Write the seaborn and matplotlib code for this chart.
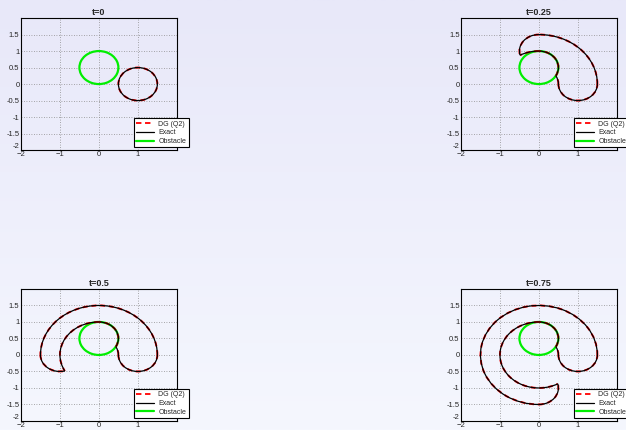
import matplotlib
matplotlib.use("Agg")
import matplotlib.pyplot as plt
from matplotlib.patches import Arc
from matplotlib.lines import Line2D
import seaborn as sns
import numpy as np

# front positions at the four output times
# each boundary piece: (cx, cy, radius, theta_start, theta_end) in degrees
TIMES = ["t=0", "t=0.25", "t=0.5", "t=0.75"]

FRONT_T0 = [(1, 0, 0.5, 0, 360)]
FRONT_T025 = [
    (1, 0, 0.5, 180, 360),     # start disk, lower half
    (0, 0, 1.5, 0, 90),        # outer swept arc
    (0, 1, 0.5, 90, 194.5),    # disk at final position
    (0, 0, 1.0, 90, 119),      # shadow behind obstacle
    (0, 0.5, 0.5, -30, 90),    # along obstacle
    (0, 0, 0.5, 0, 30),        # inner swept arc
]
FRONT_T05 = [
    (1, 0, 0.5, 180, 360),
    (0, 0, 1.5, 0, 180),
    (-1, 0, 0.5, 180, 284.5),
    (0, 0, 1.0, 90, 209),
    (0, 0.5, 0.5, -30, 90),
    (0, 0, 0.5, 0, 30),
]
FRONT_T075 = [
    (1, 0, 0.5, 180, 360),
    (0, 0, 1.5, 0, 270),
    (0, -1, 0.5, 270, 374.5),
    (0, 0, 1.0, 90, 299),
    (0, 0.5, 0.5, -30, 90),
    (0, 0, 0.5, 0, 30),
]
FRONTS = [FRONT_T0, FRONT_T025, FRONT_T05, FRONT_T075]

OBSTACLE = (0, 0.5, 0.5)  # center x, center y, radius

XTICKS = [-2, -1, 0, 1]
YTICKS = [-2, -1.5, -1, -0.5, 0, 0.5, 1, 1.5]
YTICKLABELS = ["-2", "-1.5", "-1", "-0.5", "0", "0.5", "1", "1.5"]

sns.set_theme(style="white", rc={
    "axes.edgecolor": "black",
    "axes.linewidth": 0.8,
    "xtick.direction": "in",
    "ytick.direction": "in",
})
plt.rcParams["font.family"] = ["Liberation Sans", "DejaVu Sans"]

fig = plt.figure(figsize=(6.26, 4.30), dpi=100)

# light blue gradient background
bg = fig.add_axes([0, 0, 1, 1], zorder=-10)
grad = np.linspace(0, 1, 256).reshape(-1, 1)
bg.imshow(grad, aspect="auto", extent=[0, 1, 0, 1],
          cmap=matplotlib.colors.LinearSegmentedColormap.from_list(
              "bgc", ["#e8e8f9", "#f5f7fe"]))
bg.set_axis_off()

# axes boxes (left, bottom, width, height) in figure fraction
POS = [
    [0.0335, 0.651, 0.249, 0.307],
    [0.7364, 0.651, 0.249, 0.307],
    [0.0335, 0.021, 0.249, 0.307],
    [0.7364, 0.021, 0.249, 0.307],
]

for title, front, pos in zip(TIMES, FRONTS, POS):
    ax = fig.add_axes(pos)
    ax.set_facecolor("none")
    ax.set_xlim(-2, 2)
    ax.set_ylim(-2, 2)

    for cx, cy, r, t1, t2 in front:
        ax.add_patch(Arc((cx, cy), 2 * r, 2 * r, theta1=t1, theta2=t2,
                         color="red", lw=1.4, ls=(0, (2.5, 2)), zorder=3))
        ax.add_patch(Arc((cx, cy), 2 * r, 2 * r, theta1=t1, theta2=t2,
                         color="black", lw=0.9, zorder=4))

    ox, oy, orad = OBSTACLE
    ax.add_patch(Arc((ox, oy), 2 * orad, 2 * orad, theta1=0, theta2=360,
                     color="#00ee00", lw=1.6, zorder=2))

    ax.set_xticks(XTICKS)
    ax.set_yticks(YTICKS)
    ax.set_yticklabels(YTICKLABELS)
    ax.tick_params(labelsize=5.5, length=2, width=0.5, pad=1)
    # lowest y label sits just above the corner
    ax.get_yticklabels()[0].set_va("bottom")
    ax.grid(True, color="#8c8c8c", ls=(0, (1, 2)), lw=0.6)
    ax.set_title(title, fontsize=6.5, fontweight="bold", pad=2)

    handles = [
        Line2D([], [], color="red", lw=1.3, ls=(0, (3, 2))),
        Line2D([], [], color="black", lw=0.9),
        Line2D([], [], color="#00ee00", lw=1.6),
    ]
    leg = ax.legend(handles, ["DG (Q2)", "Exact", "Obstacle"],
                    loc="lower right", bbox_to_anchor=(1.075, 0.02),
                    fontsize=5, frameon=True, fancybox=False,
                    handlelength=2.6, handletextpad=0.6, borderpad=0.35,
                    labelspacing=0.25, borderaxespad=0)
    leg.get_frame().set_edgecolor("black")
    leg.get_frame().set_linewidth(0.8)
    leg.get_frame().set_facecolor("white")
    leg.get_frame().set_alpha(1)
    leg.set_zorder(10)

fig.savefig("out.png", dpi=100)
